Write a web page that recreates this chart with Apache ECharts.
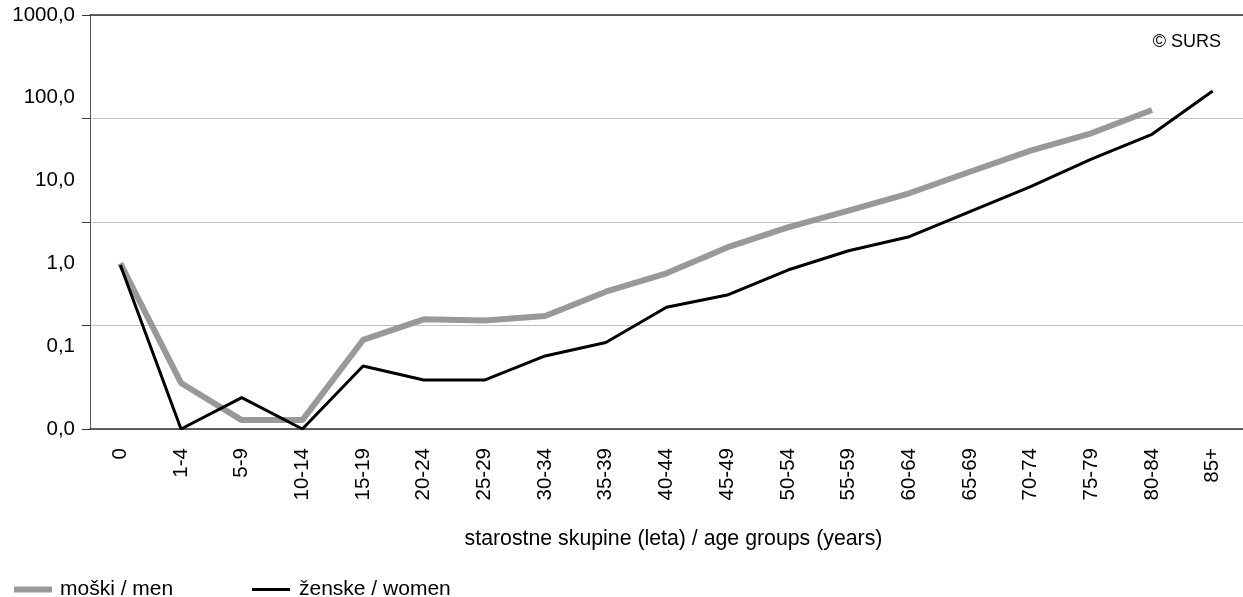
<!DOCTYPE html>
<html>
<head>
<meta charset="utf-8">
<script src="https://cdn.jsdelivr.net/npm/echarts@6/dist/echarts.min.js"></script>
<style>
html,body{margin:0;padding:0;background:#fff;}
#chart{width:1243px;height:597px;}
</style>
</head>
<body>
<div id="chart"></div>
<script>
const categories = ['0','1-4','5-9','10-14','15-19','20-24','25-29','30-34','35-39','40-44','45-49','50-54','55-59','60-64','65-69','70-74','75-79','80-84','85+'];
const menValues = [1.0, 0.036, 0.0128, 0.0128, 0.119, 0.211, 0.204, 0.232, 0.455, 0.76, 1.56, 2.73, 4.33, 7.03, 12.8, 23.0, 37.3, 71.2, null];
const womenValues = [0.957, 0.01, 0.0239, 0.01, 0.0577, 0.0391, 0.039, 0.0762, 0.111, 0.295, 0.415, 0.832, 1.42, 2.10, 4.21, 8.44, 18.2, 36.2, 121];
const menName = 'moški / men';
const womenName = 'ženske / women';
const xTitle = 'starostne skupine (leta) / age groups (years)';
const sourceNote = '© SURS';

const FONT = '"Liberation Sans", Arial, sans-serif';
const chart = echarts.init(document.getElementById('chart'));
chart.setOption({
  animation: false,
  backgroundColor: '#fff',
  textStyle: { fontFamily: FONT, color: '#000' },
  grid: { left: 90, right: 0, top: 15, bottom: 168, containLabel: false },
  xAxis: [{
    type: 'category',
    data: categories,
    boundaryGap: true,
    position: 'bottom',
    axisLine: { lineStyle: { color: '#333', width: 1.5 } },
    axisTick: { show: false },
    axisLabel: { rotate: 90, margin: 19, fontSize: 20.5, color: '#000', fontFamily: FONT, interval: 0 },
    name: xTitle,
    nameLocation: 'middle',
    nameGap: 100,
    nameTextStyle: { fontSize: 21.3, color: '#000', fontFamily: FONT, padding: [0, 0, 0, 14] }
  }, {
    type: 'category',
    data: categories,
    position: 'top',
    axisLine: { show: true, lineStyle: { color: '#333', width: 1.5 } },
    axisTick: { show: false },
    axisLabel: { show: false }
  }],
  yAxis: [{
    type: 'log',
    logBase: 10,
    min: 0.01,
    max: 1000,
    position: 'left',
    axisLine: { show: false },
    axisTick: { show: false },
    splitLine: { show: false },
    axisLabel: {
      margin: 15, fontSize: 20.5, color: '#000', fontFamily: FONT,
      formatter: v => Number(v).toFixed(1).replace('.', ',')
    }
  }, {
    type: 'value',
    min: 0, max: 4, interval: 1,
    position: 'left',
    axisLine: { show: true, lineStyle: { color: '#555', width: 1 } },
    axisTick: { show: true, length: 8, lineStyle: { color: '#333' } },
    axisLabel: { show: false },
    splitLine: { show: true, lineStyle: { color: '#c0c0c0', width: 1.2 } }
  }],
  legend: [{
    data: [menName],
    left: 9, top: 574,
    icon: 'rect', itemWidth: 38, itemHeight: 6,
    textStyle: { fontSize: 21, color: '#000', fontFamily: FONT, padding: [0, 0, 0, 3] }
  }, {
    data: [womenName],
    left: 247, top: 574,
    icon: 'rect', itemWidth: 38, itemHeight: 3,
    textStyle: { fontSize: 21, color: '#000', fontFamily: FONT, padding: [0, 0, 0, 4] }
  }],
  graphic: [{
    type: 'text',
    right: 22, top: 33,
    style: { text: sourceNote, fontSize: 18, fontFamily: FONT, fill: '#000' }
  }],
  series: [{
    name: menName,
    type: 'line',
    data: menValues,
    yAxisIndex: 0,
    symbol: 'none',
    itemStyle: { color: '#999999' },
    lineStyle: { color: '#999999', width: 6 },
    connectNulls: false
  }, {
    name: womenName,
    type: 'line',
    data: womenValues,
    yAxisIndex: 0,
    symbol: 'none',
    itemStyle: { color: '#000000' },
    lineStyle: { color: '#000000', width: 3 }
  }]
});
</script>
</body>
</html>
